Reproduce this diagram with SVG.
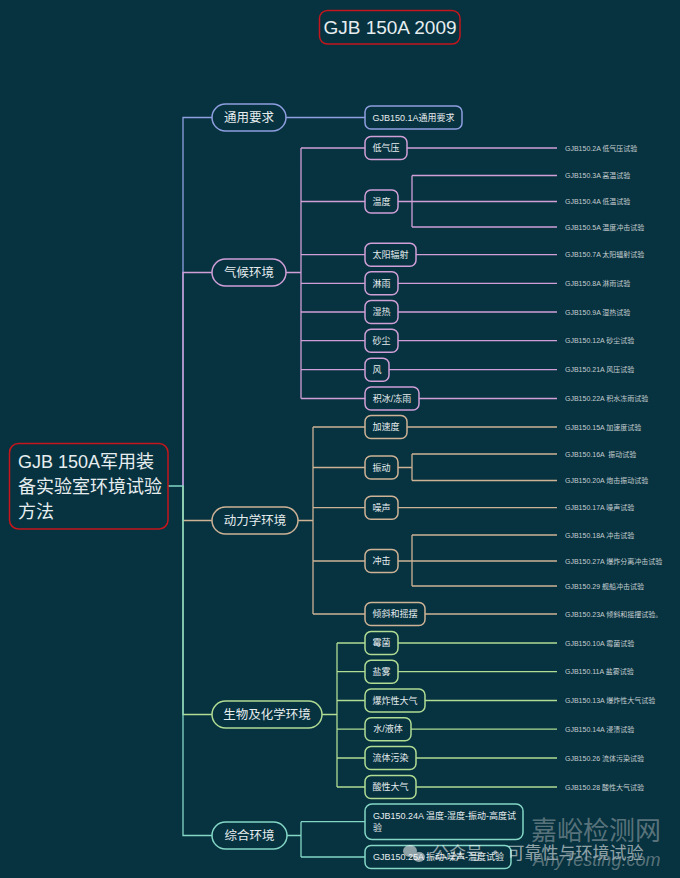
<svg xmlns="http://www.w3.org/2000/svg" width="680" height="878" viewBox="0 0 680 878">
<style>
.t{font-family:"Liberation Sans","Noto Sans CJK SC",sans-serif;fill:#e6edef}
.title{font-size:19px;text-anchor:middle}
.root{font-size:18px}
.br{font-size:12.5px;text-anchor:middle}
.sub{font-size:9px;text-anchor:middle}
.sub2{font-size:9px}
.leaf{font-size:7px;fill:#c3cdd0;white-space:pre}
.red{fill:#07323f;stroke:#c4161c;stroke-width:1.5}
.ln{fill:none;stroke-width:1.3}
.nd{fill:#07323f;stroke-width:1.5}
.blue{stroke:#8e9fe0}
.pink{stroke:#d09fd8}
.tan{stroke:#cdb295}
.green{stroke:#b0dc94}
.teal{stroke:#84d6c6}
.wm{font-family:"Noto Sans CJK SC",sans-serif}
</style>
<rect width="680" height="878" fill="#07323f"/>

<g id="connectors">
<path class="ln blue" d="M183 486 V117.5 H212 M286 117.5 H365"/>
<path class="ln pink" d="M183 486 V272.5 H212 M286 272.5 H301 M301 148 V398.5 M301 148 H365 M301 201.5 H365 M301 254.7 H365 M301 283.3 H365 M301 312 H365 M301 340.7 H365 M301 369.7 H365 M301 398.5 H365 M407 148 H557 M398 201.5 H412 M412 175.5 V227 M412 175.5 H557 M412 201.5 H557 M412 227 H557 M416 254.7 H557 M398 283.3 H557 M398 312 H557 M398 340.7 H557 M389 369.7 H557 M419 398.5 H557"/>
<path class="ln tan" d="M183 486 V520.5 H212 M298 520.5 H313 M313 427 V614 M313 427 H365 M313 467.5 H365 M313 507.7 H365 M313 561 H365 M313 614 H365 M407 427 H557 M398 467.5 H412 M412 454 V480.5 M412 454 H557 M412 480.5 H557 M398 507.7 H557 M398 561 H557 M412 535 V586 M412 535 H557 M412 586 H557 M425 614 H557"/>
<path class="ln green" d="M183 486 V714.5 H212 M322 714.5 H337 M337 643 V787 M337 643 H365 M337 671.7 H365 M337 700.5 H365 M337 729.2 H365 M337 758 H365 M337 787 H365 M398 643 H557 M398 671.7 H557 M425 700.5 H557 M411 729.2 H557 M416 758 H557 M416 787 H557"/>
<path class="ln teal" d="M168 486 H183 V835.5 H212 M287 835.5 H301 M301 821.7 V857 M301 821.7 H365 M301 857 H365"/>
</g>

<g id="title">
<rect class="red" x="319.5" y="10.5" width="140.5" height="33.5" rx="8"/>
<text class="t title" x="390" y="34">GJB 150A 2009</text>
</g>

<g id="root">
<rect class="red" x="9.5" y="443.5" width="158.5" height="85.5" rx="9"/>
<text class="t root" x="18" y="468">GJB 150A军用装</text>
<text class="t root" x="18" y="493">备实验室环境试验</text>
<text class="t root" x="18" y="518">方法</text>
</g>

<g id="b-general">
<rect class="nd blue" x="212" y="104" width="74" height="27" rx="13.5"/>
<text class="t br" x="249" y="122">通用要求</text>
</g>
<g id="b-climate">
<rect class="nd pink" x="212" y="259" width="74" height="27" rx="13.5"/>
<text class="t br" x="249" y="277">气候环境</text>
</g>
<g id="b-dynamic">
<rect class="nd tan" x="212" y="507" width="86" height="27" rx="13.5"/>
<text class="t br" x="255" y="525">动力学环境</text>
</g>
<g id="b-bio">
<rect class="nd green" x="212" y="701" width="110" height="27" rx="13.5"/>
<text class="t br" x="267" y="719">生物及化学环境</text>
</g>
<g id="b-combined">
<rect class="nd teal" x="212" y="822" width="75" height="27" rx="13.5"/>
<text class="t br" x="249.5" y="840">综合环境</text>
</g>

<g id="n-general">
<rect class="nd blue" x="365" y="106" width="97" height="23" rx="6"/>
<text class="t sub" x="413.5" y="120.7">GJB150.1A通用要求</text>
</g>

<g id="n-lowpressure"><rect class="nd pink" x="365" y="136.5" width="42" height="23" rx="6"/><text class="t sub" x="386" y="151.2">低气压</text></g>
<g id="n-temp"><rect class="nd pink" x="365" y="190" width="33" height="23" rx="6"/><text class="t sub" x="381.5" y="204.7">温度</text></g>
<g id="n-solar"><rect class="nd pink" x="365" y="243.2" width="51" height="23" rx="6"/><text class="t sub" x="390.5" y="257.9">太阳辐射</text></g>
<g id="n-rain"><rect class="nd pink" x="365" y="271.8" width="33" height="23" rx="6"/><text class="t sub" x="381.5" y="286.5">淋雨</text></g>
<g id="n-humid"><rect class="nd pink" x="365" y="300.5" width="33" height="23" rx="6"/><text class="t sub" x="381.5" y="315.2">湿热</text></g>
<g id="n-sand"><rect class="nd pink" x="365" y="329.2" width="33" height="23" rx="6"/><text class="t sub" x="381.5" y="343.9">砂尘</text></g>
<g id="n-wind"><rect class="nd pink" x="365" y="358.2" width="24" height="23" rx="6"/><text class="t sub" x="377" y="372.9">风</text></g>
<g id="n-ice"><rect class="nd pink" x="365" y="387" width="54" height="23" rx="6"/><text class="t sub" x="392" y="401.7">积冰/冻雨</text></g>

<g id="n-accel"><rect class="nd tan" x="365" y="415.5" width="42" height="23" rx="6"/><text class="t sub" x="386" y="430.2">加速度</text></g>
<g id="n-vib"><rect class="nd tan" x="365" y="456" width="33" height="23" rx="6"/><text class="t sub" x="381.5" y="470.7">振动</text></g>
<g id="n-noise"><rect class="nd tan" x="365" y="496.2" width="33" height="23" rx="6"/><text class="t sub" x="381.5" y="510.9">噪声</text></g>
<g id="n-shock"><rect class="nd tan" x="365" y="549.5" width="33" height="23" rx="6"/><text class="t sub" x="381.5" y="564.2">冲击</text></g>
<g id="n-tilt"><rect class="nd tan" x="365" y="602.5" width="60" height="23" rx="6"/><text class="t sub" x="395" y="617.2">倾斜和摇摆</text></g>

<g id="n-mold"><rect class="nd green" x="365" y="631.5" width="33" height="23" rx="6"/><text class="t sub" x="381.5" y="646.2">霉菌</text></g>
<g id="n-salt"><rect class="nd green" x="365" y="660.2" width="33" height="23" rx="6"/><text class="t sub" x="381.5" y="674.9">盐雾</text></g>
<g id="n-explosive"><rect class="nd green" x="365" y="689" width="60" height="23" rx="6"/><text class="t sub" x="395" y="703.7">爆炸性大气</text></g>
<g id="n-water"><rect class="nd green" x="365" y="717.7" width="46" height="23" rx="6"/><text class="t sub" x="388" y="732.4">水/液体</text></g>
<g id="n-fluid"><rect class="nd green" x="365" y="746.5" width="51" height="23" rx="6"/><text class="t sub" x="390.5" y="761.2">流体污染</text></g>
<g id="n-acid"><rect class="nd green" x="365" y="775.5" width="51" height="23" rx="6"/><text class="t sub" x="390.5" y="790.2">酸性大气</text></g>

<g id="n-combined1"><rect class="nd teal" x="365" y="804" width="158" height="35.5" rx="7"/><text class="t sub2" x="373" y="818.5">GJB150.24A 温度-湿度-振动-高度试</text><text class="t sub2" x="373" y="831">验</text></g>
<g id="n-combined2"><rect class="nd teal" x="365" y="845.5" width="146" height="23" rx="6"/><text class="t sub2" x="373" y="860.2">GJB150.25A 振动-噪声-温度试验</text></g>

<g id="leaves">
<text class="t leaf" x="565" y="150.5">GJB150.2A 低气压试验</text>
<text class="t leaf" x="565" y="178">GJB150.3A 高温试验</text>
<text class="t leaf" x="565" y="204">GJB150.4A 低温试验</text>
<text class="t leaf" x="565" y="229.5">GJB150.5A 温度冲击试验</text>
<text class="t leaf" x="565" y="257.2">GJB150.7A 太阳辐射试验</text>
<text class="t leaf" x="565" y="285.8">GJB150.8A 淋雨试验</text>
<text class="t leaf" x="565" y="314.5">GJB150.9A 湿热试验</text>
<text class="t leaf" x="565" y="343.2">GJB150.12A 砂尘试验</text>
<text class="t leaf" x="565" y="372.2">GJB150.21A 风压试验</text>
<text class="t leaf" x="565" y="401">GJB150.22A 积水冻雨试验</text>
<text class="t leaf" x="565" y="429.8">GJB150.15A 加速度试验</text>
<text class="t leaf" x="565" y="456.5">GJB150.16A  振动试验</text>
<text class="t leaf" x="565" y="483">GJB150.20A 炮击振动试验</text>
<text class="t leaf" x="565" y="510.2">GJB150.17A 噪声试验</text>
<text class="t leaf" x="565" y="537.5">GJB150.18A 冲击试验</text>
<text class="t leaf" x="565" y="563.5">GJB150.27A 爆炸分离冲击试验</text>
<text class="t leaf" x="565" y="588.5">GJB150.29 舰船冲击试验</text>
<text class="t leaf" x="565" y="616.5">GJB150.23A 倾斜和摇摆试验。</text>
<text class="t leaf" x="565" y="645.5">GJB150.10A 霉菌试验</text>
<text class="t leaf" x="565" y="674.2">GJB150.11A 盐雾试验</text>
<text class="t leaf" x="565" y="703">GJB150.13A 爆炸性大气试验</text>
<text class="t leaf" x="565" y="731.7">GJB150.14A 浸渍试验</text>
<text class="t leaf" x="565" y="760.5">GJB150.26 流体污染试验</text>
<text class="t leaf" x="565" y="789.5">GJB150.28 酸性大气试验</text>
</g>

<g id="watermark" opacity="0.55">
<text class="wm" x="531" y="840" font-size="26" fill="#9aa7ab">嘉峪检测网</text>
<text x="533" y="866" font-size="18" font-style="italic" font-family="Liberation Sans, sans-serif" fill="#9aa7ab">AnyTesting.com</text>
<ellipse cx="410" cy="851" rx="7" ry="6" fill="#ffffff"/>
<ellipse cx="419" cy="857" rx="6" ry="5" fill="#ffffff"/>
<text class="wm" x="432" y="859" font-size="17" fill="#ffffff">公众号 · 可靠性与环境试验</text>
</g>
</svg>
